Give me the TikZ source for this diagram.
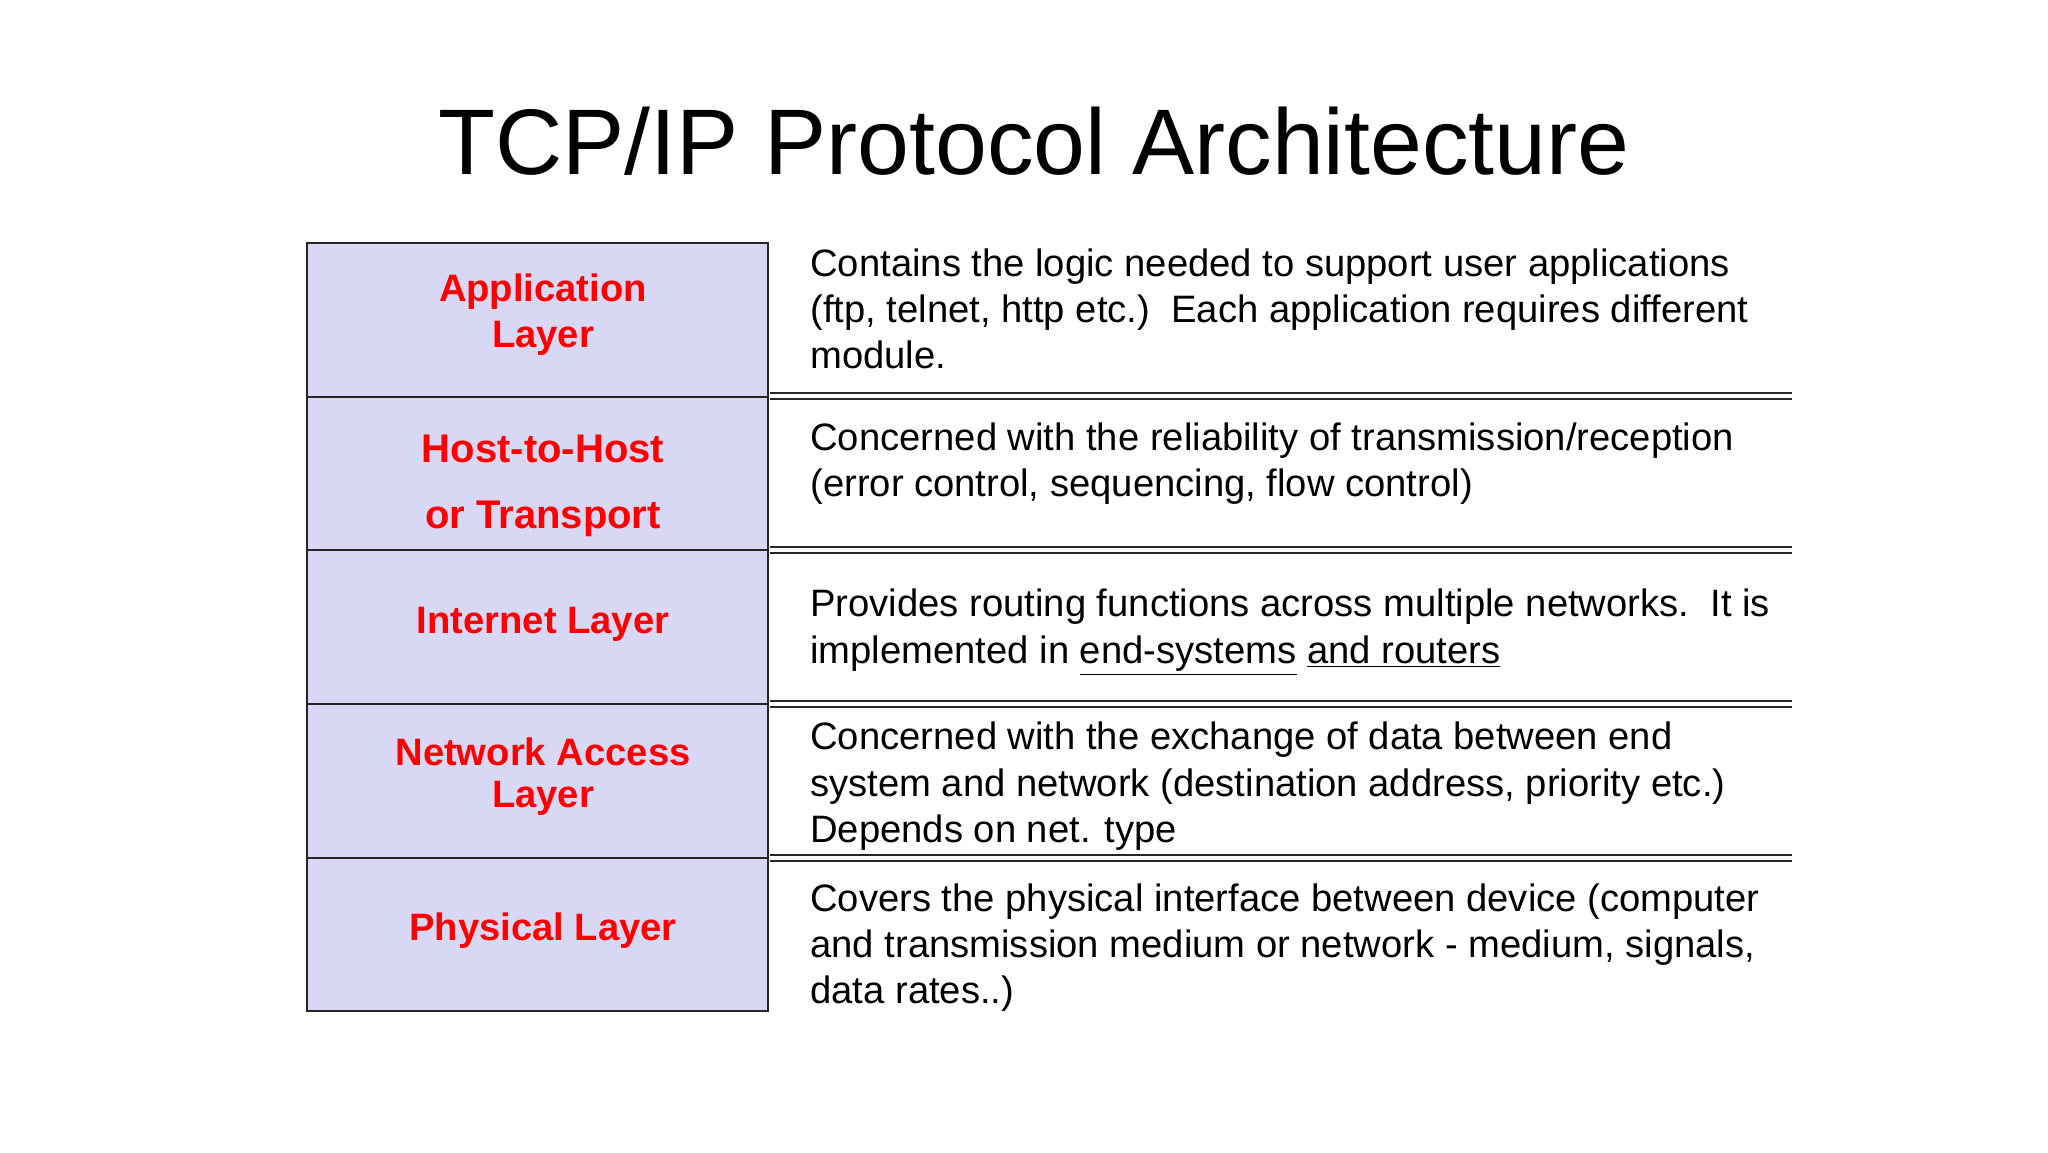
\documentclass[tikz,border=0pt]{standalone}
\usepackage{fontspec}
\setmainfont{Liberation Sans}
\definecolor{cellfill}{HTML}{D8D8F4}
\definecolor{lab}{HTML}{FF0000}
\begin{document}
\begin{tikzpicture}[x=0.5pt,y=-0.5pt,
  cell/.style={draw=black!85,line width=0.8pt,fill=cellfill},
  lbl/.style={text=lab,font=\fontsize{19.1}{22}\selectfont\bfseries,inner sep=0},
  lblb/.style={text=lab,font=\fontsize{20}{22}\selectfont\bfseries,inner sep=0},
  desc/.style={anchor=mid west,font=\fontsize{19.1}{22}\selectfont,inner sep=0},
  dbl/.style={draw=black!85,line width=0.9pt}]
\useasboundingbox (0,0) rectangle (2048,1152);
\node[font=\fontsize{46.6}{52}\selectfont] (title) at (1034,141) {TCP/IP Protocol Architecture};
% cells
\foreach \i/\a/\b in {1/243/397,2/397/550,3/550/704,4/704/858,5/858/1011}
  \path[cell] (307,\a) rectangle (768,\b);
% double lines
\foreach \yy in {396,550,704,858}{
  \draw[dbl] (770,\yy-3) -- (1792,\yy-3);
  \draw[dbl] (770,\yy+3) -- (1792,\yy+3);
}
% labels
\node[lbl] (a1) at (543,292) {Application};
\node[lbl] (a2) at (543,338) {Layer};
\begin{scope}
\clip (307,397) rectangle (768,550);
\node[lblb] (h1) at (543,449) {Host-to-Host};
\node[lblb] (h2) at (543,519) {or Transport};
\node[lblb] (h3) at (543,578) {Layer};
\end{scope}
\node[lbl] (i1) at (543,624) {Internet Layer};
\node[lbl] (n1) at (543,752) {Network Access};
\node[lbl] (n2) at (543,798) {Layer};
\node[lbl] (p1) at (543,931) {Physical Layer};
% descriptions
\node[desc] (d11) at (810,271) {Contains the logic needed to support user applications};
\node[desc] (d12) at (810,317) {(ftp, telnet, http etc.)\ \ Each application requires different};
\node[desc] (d13) at (810,363) {module.};
\node[desc] (d21) at (810,445) {Concerned with the reliability of transmission/reception};
\node[desc] (d22) at (810,491) {(error control, sequencing, flow control)};
\node[desc] (d31) at (810,611) {Provides routing functions across multiple networks.\ \ It is};
\node[desc] (d32) at (810,658) {implemented in \underline{end-systems} \underline{and routers}};
\node[desc] (d41) at (810,744) {Concerned with the exchange of data between end};
\node[desc] (d42) at (810,791) {system and network (destination address, priority etc.)};
\node[desc] (d43) at (810,837) {Depends on net. type};
\node[desc] (d51) at (810,906) {Covers the physical interface between device (computer};
\node[desc] (d52) at (810,952) {and transmission medium or network - medium, signals,};
\node[desc] (d53) at (810,998) {data rates..)};
\end{tikzpicture}
\end{document}
